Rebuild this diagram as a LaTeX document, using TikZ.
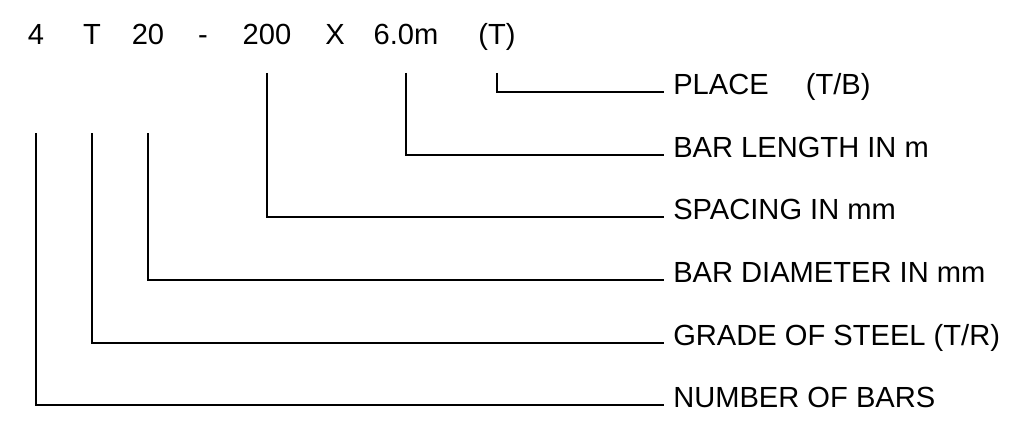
\documentclass[tikz,border=0pt]{standalone}
\usepackage{fontspec}
\setmainfont{Liberation Sans}
\usetikzlibrary{positioning}
\tikzset{
  tok/.style   ={anchor=base, inner sep=0pt},
  lab/.style   ={anchor=base west, inner sep=0pt},
  lead/.style  ={line width=1.1pt},
  toend/.style ={xshift=-0.225cm, yshift=0.05cm},
}

\begin{document}
\begin{tikzpicture}[x=0.025cm, y=-0.025cm, font=\fontsize{20.7}{24}\selectfont]
  \useasboundingbox (0,0) rectangle (1010,420);

  % bar mark
  \node[tok] (n4)    at (36,45)  {4};
  \node[tok] (nT)    at (92,45)  {T};
  \node[tok] (n20)   at (148,45) {20};
  \node[tok] (ndash) at (203,45) {-};
  \node[tok] (n200)  at (267,45) {200};
  \node[tok] (nX)    at (335,45) {X};
  \node[tok] (n6)    at (406,45) {6.0m};
  \node[tok] (nP)    at (497,45) {(T)};

  % labels
  \node[lab] (lplace) at (673,94)  {PLACE\quad\ (T/B)};
  \node[lab] (llen)   at (673,157) {BAR LENGTH IN m};
  \node[lab] (lspc)   at (673,219) {SPACING IN mm};
  \node[lab] (ldia)   at (673,282) {BAR DIAMETER IN mm};
  \node[lab] (lgrd)   at (673,345) {GRADE OF STEEL (T/R)};
  \node[lab] (lnum)   at (673,407) {NUMBER OF BARS};

  % leaders
  \coordinate (hi) at (0,73);
  \coordinate (lo) at (0,133);
  \draw[lead] (nP |- hi)   |- ([toend]lplace.base west);
  \draw[lead] (n6 |- hi)   |- ([toend]llen.base west);
  \draw[lead] (n200 |- hi) |- ([toend]lspc.base west);
  \draw[lead] (n20 |- lo)  |- ([toend]ldia.base west);
  \draw[lead] (nT |- lo)   |- ([toend]lgrd.base west);
  \draw[lead] (n4 |- lo)   |- ([toend]lnum.base west);
\end{tikzpicture}
\end{document}
